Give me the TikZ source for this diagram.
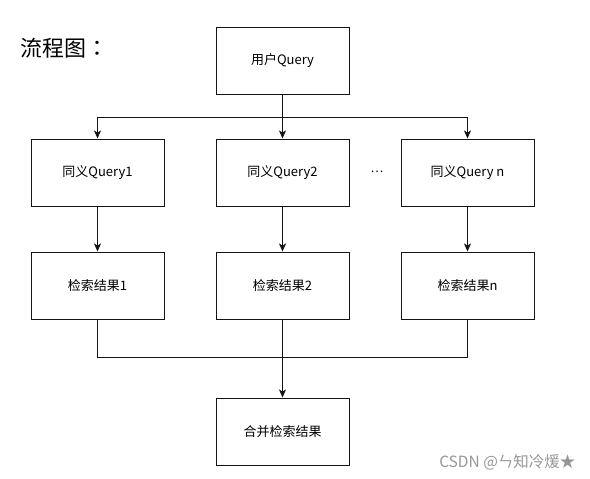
\documentclass[tikz,border=0pt]{standalone}
\usepackage{fontspec}
\setmainfont{Noto Sans CJK SC}
\newfontfamily\titlefont{Noto Sans CJK TC}
\usetikzlibrary{arrows.meta,positioning}
\definecolor{LineBlack}{RGB}{20,20,20}
\definecolor{MarkGray}{RGB}{150,150,150}
\tikzset{
  box/.style={draw=LineBlack,line width=1pt,fill=white,minimum width=133pt,
    minimum height=67pt,inner sep=0pt,align=center,font=\fontsize{13}{15}\selectfont},
  line/.style={line width=1pt,LineBlack},
  arrow/.style={-{Stealth[length=8pt,width=7pt,inset=2pt]},line width=1pt,LineBlack}
}
\begin{document}
\begin{tikzpicture}[x=1pt,y=1pt]
  \useasboundingbox (0,0) rectangle (590,-479);
  \node[anchor=west,font=\titlefont\fontsize{22}{24}\selectfont] (title) at (17,-48) {流程图：};
  \node[box] (user) at (282.5,-60.5) {用户Query};
  \node[box,below=44pt of user] (q2) {同义Query2};
  \node[box,left=51pt of q2] (q1) {同义Query1};
  \node[box,right=51pt of q2] (qn) {同义Query n};
  \node[font=\fontsize{12}{14}\selectfont] (dots) at (377,-172) {…};
  \foreach \x in {1,2,n}{
    \node[box,below=45pt of q\x] (r\x) {检索结果\x};
    \draw[arrow] (q\x) -- (r\x);
  }
  \node[box,below=78pt of r2] (merge) {合并检索结果};
  % fork and join points
  \coordinate[below=23pt of user.south] (fork);
  \coordinate[below=38pt of r2.south] (join);
  \draw[arrow] (user) -- (q2);
  \draw[arrow] (fork) -| (q1);
  \draw[arrow] (fork) -| (qn);
  \draw[line] (r1) |- (join) -| (rn);
  \draw[arrow] (r2) -- (merge);
  \node[anchor=east,text=MarkGray,font=\fontsize{15.5}{17}\selectfont] (mark) at (579,-462) {CSDN @ㄣ知冷煖★};
\end{tikzpicture}
\end{document}
